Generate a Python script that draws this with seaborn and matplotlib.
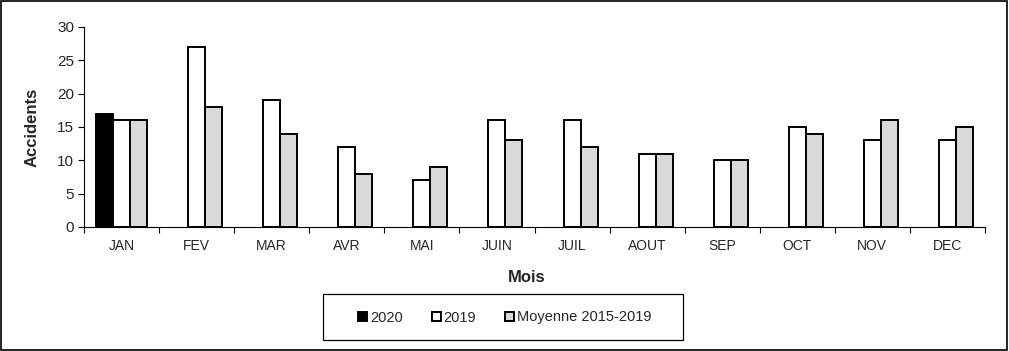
import numpy as np
import pandas as pd
import seaborn as sns
import matplotlib.pyplot as plt
from matplotlib.patches import Rectangle

months = ["JAN", "FEV", "MAR", "AVR", "MAI", "JUIN", "JUIL", "AOUT", "SEP", "OCT", "NOV", "DEC"]
series_names = ["2020", "2019", "Moyenne 2015-2019"]
v2020 = [17, np.nan, np.nan, np.nan, np.nan, np.nan, np.nan, np.nan, np.nan, np.nan, np.nan, np.nan]
v2019 = [16, 27, 19, 12, 7, 16, 16, 11, 10, 15, 13, 13]
vmoy = [16, 18, 14, 8, 9, 13, 12, 11, 10, 14, 16, 15]
colors = ["#000000", "#ffffff", "#d9d9d9"]

df = pd.DataFrame({
    "Mois": months * 3,
    "Serie": [series_names[0]] * 12 + [series_names[1]] * 12 + [series_names[2]] * 12,
    "Accidents": v2020 + v2019 + vmoy,
})

sns.set_style("white")
plt.rcParams['font.family'] = ['Liberation Sans', 'DejaVu Sans']

fig = plt.figure(figsize=(10.09, 3.51), dpi=100)
ax = fig.add_axes([84/1009, 1-227/351, (985-84)/1009, 200/351])

sns.barplot(data=df, x="Mois", y="Accidents", hue="Serie", order=months,
            hue_order=series_names, palette=colors, width=0.68,
            edgecolor="black", linewidth=1.4, ax=ax, legend=False)

ax.set_ylim(0, 30)
ax.set_xlim(-0.5, 11.5)
ax.set_yticks(range(0, 31, 5))
ax.tick_params(axis='y', labelsize=11, length=4, width=0.8, color='black', direction='out', left=True, pad=3)
ax.set_xticks(np.arange(-0.5, 12, 1))
ax.set_xticklabels([])
ax.set_xticks(np.arange(12), minor=True)
ax.set_xticklabels(months, minor=True)
ax.tick_params(axis='x', which='major', length=4, width=0.8, color='black', direction='out', bottom=True)
ax.tick_params(axis='x', which='minor', length=0, labelsize=10, pad=9)

for s in ["top", "right"]:
    ax.spines[s].set_visible(False)
for s in ["left", "bottom"]:
    ax.spines[s].set_color("black")
    ax.spines[s].set_linewidth(0.8)

ax.set_ylabel("Accidents", fontsize=12, fontweight="bold", labelpad=13)
ax.set_xlabel("Mois", fontsize=12, fontweight="bold")
ax.xaxis.set_label_coords((527 - 84) / 901, -0.255)
ax.xaxis.label.set_va("center")

handles = [Rectangle((0, 0), 1, 1, facecolor=c, edgecolor="black", linewidth=1.4) for c in colors]
leg = fig.legend(handles, series_names, loc="center", bbox_to_anchor=(505/1009, 1-317.5/351),
                 ncol=3, fontsize=10.5, frameon=False,
                 handlelength=0.6, handleheight=0.6, handletextpad=0.2, columnspacing=2.0,
                 borderpad=0, borderaxespad=0)

fig.patches.append(Rectangle((323/1009, 1-340/351), (683-323)/1009, 46/351, transform=fig.transFigure,
                             fill=False, edgecolor="black", linewidth=0.9))
fig.patches.append(Rectangle((0.001, 0.002), 0.997, 0.995, transform=fig.transFigure,
                             fill=False, edgecolor="black", linewidth=1.2))

fig.savefig("out.png", dpi=100)
